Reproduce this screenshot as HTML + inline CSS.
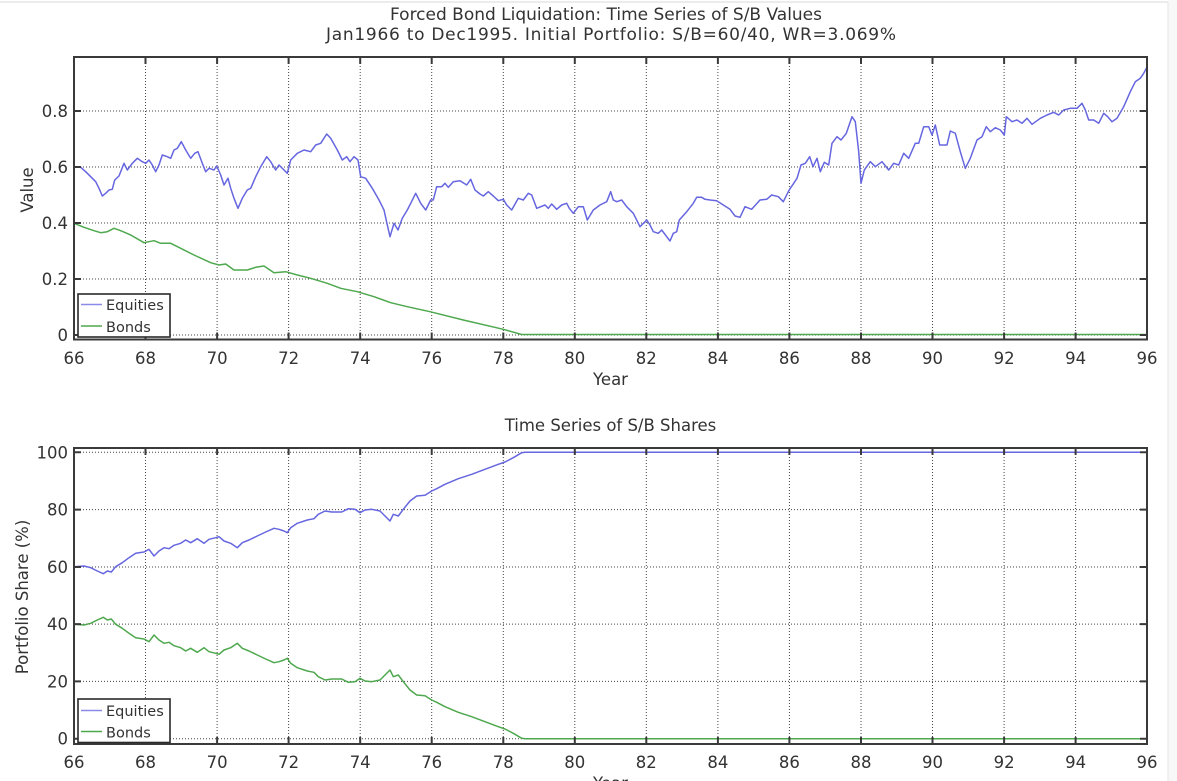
<!DOCTYPE html>
<html>
<head>
<meta charset="utf-8">
<style>
  html,body{margin:0;padding:0;background:#fff;}
  body{width:1177px;height:781px;overflow:hidden;}
  svg{display:block;}
  text{font-family:"DejaVu Sans","Liberation Sans",sans-serif;fill:#333;}
</style>
</head>
<body>
<svg width="1177" height="781" viewBox="0 0 1177 781" xmlns="http://www.w3.org/2000/svg">
  <rect x="0" y="0" width="1177" height="781" fill="#fff"/>
  <rect x="1168" y="0" width="9" height="781" fill="#f8f8f8"/>
  <line x1="0" y1="2" x2="1168" y2="2" stroke="#d8d8d8" stroke-width="1"/>
  <line x1="1168" y1="2" x2="1168" y2="781" stroke="#e6e6e6" stroke-width="1"/>

  <!-- ============ TOP AXES ============ -->
  <g stroke="#444" stroke-width="1" stroke-dasharray="1 2" fill="none">
    <line x1="145.5" y1="57" x2="145.5" y2="339"/>
    <line x1="217.1" y1="57" x2="217.1" y2="339"/>
    <line x1="288.6" y1="57" x2="288.6" y2="339"/>
    <line x1="360.2" y1="57" x2="360.2" y2="339"/>
    <line x1="431.7" y1="57" x2="431.7" y2="339"/>
    <line x1="503.3" y1="57" x2="503.3" y2="339"/>
    <line x1="574.8" y1="57" x2="574.8" y2="339"/>
    <line x1="646.3" y1="57" x2="646.3" y2="339"/>
    <line x1="717.9" y1="57" x2="717.9" y2="339"/>
    <line x1="789.4" y1="57" x2="789.4" y2="339"/>
    <line x1="861" y1="57" x2="861" y2="339"/>
    <line x1="932.5" y1="57" x2="932.5" y2="339"/>
    <line x1="1004.1" y1="57" x2="1004.1" y2="339"/>
    <line x1="1075.6" y1="57" x2="1075.6" y2="339"/>
    <line x1="74" y1="111" x2="1147" y2="111"/>
    <line x1="74" y1="167" x2="1147" y2="167"/>
    <line x1="74" y1="223" x2="1147" y2="223"/>
    <line x1="74" y1="279" x2="1147" y2="279"/>
    <line x1="74" y1="335" x2="1147" y2="335"/>
  </g>

  <polyline fill="none" stroke="#4ea84e" stroke-width="1.5" stroke-linejoin="round" points="
74,223.3 84,227.3 94,230.7 100.7,232.7 107.3,231.7 114,228.3 120.7,230.7 130.7,235 144,242.7 154,240.7 160.7,243.3 170.7,243.3 180.7,248.3 194,255 210.7,262.7 219,265 225.7,264 234,270 247.3,270 255.7,267.3 264,266 274,272.7 285.7,271.7 297.3,275 310.7,278.3 327.3,283.3 340.7,288.3 357.3,291.7 374,296.7 390.7,302.7 407.3,306.7 430,311.7 463.3,320 503.3,329.3 521.7,334.5 1147,334.5"/>

  <polyline fill="none" stroke="#6666e0" stroke-width="1.5" stroke-linejoin="round" points="
74,166.7 80.7,167.3 85.7,171.7 90.7,176.7 95.7,181.7 99,188.3 102.3,196 105.7,193.3 109,190 112.3,189.3 114.7,180 119,176 124,163.3 127.3,170 132.3,163.3 137.3,158.3 142.3,161.7 145.7,163.3 149,160 152.3,165 155.7,171.7 159,165 162.3,155 167.3,156.7 170.7,158.3 174,150 177.3,148.3 181.3,141.7 185.7,150 190.7,158.3 194.7,153.3 198,151.7 202.3,163.3 205.7,171.7 209,168.3 214,170 216.7,166 220.7,175 224,185 228,178.3 230.7,188.3 234,198.3 238,208.3 242.3,198.3 247.3,190 250.7,188.3 255.7,176.7 260.7,166.7 266.7,156.7 270.7,161.7 275.7,170 279,165 284,170 287.3,173.3 290.7,160 297.3,153.3 304,150 310.7,151.7 315.7,145 320.7,143.3 326.7,134 330.7,138.3 337.3,150 342.3,160 346.7,156.7 350,161.7 354,156.7 358,160 360.7,176.7 365.7,178.3 372.3,188.3 379,200 384,210 387.3,225 390,236.7 394,223.3 398,230 402.3,218.3 407.3,210 410.7,203.3 415.7,193.3 420.7,203.3 425.7,210 430.7,200 433.3,200 436.7,186.7 441.7,186.7 445,183.3 448.3,187.3 453.3,181.7 460,180.7 466.7,185 470.7,179.3 475,190 480,194 483.3,196 488.3,191.7 493.3,196 498.3,200.7 503.3,199.3 506.7,205 511.7,210 518.3,198.3 523.3,200 528.3,193.3 531.7,195 536.7,208.3 545,205 548.3,208.3 551.7,204 556.7,209.3 561.7,205 566.7,203.3 569.3,208.3 573.3,213.3 578.3,206.7 583.3,206.7 587.3,220 593.3,210 600,205 606.7,201.7 610.7,191.7 613.3,200 616.7,201.7 621.7,200 626.7,206.7 633.3,213.3 640,226.7 646.7,220 650,225 653.3,231.7 658.3,233.3 661.7,230 666.7,236.7 670,241 673.3,233.3 676.7,231.7 679.3,220 686.7,211.7 693.3,203.3 696.7,197.3 701.7,197.3 705,199.3 710,200 716.7,200.7 723.3,205 730,209.3 735,216 740,217.3 745,206.7 751.7,209.3 760,200 766.7,199.3 771.7,195 778.3,196.7 783.3,201.7 788.3,191.7 790.3,188.3 793.7,183.3 797,178.3 801,165 805.3,163.3 809.7,156.7 813,166.7 817,158.3 820.3,171.7 824.3,162.3 828.7,165 832,143.3 837,136.7 841,140 846.3,133.3 852,116.7 855.3,121.7 858.7,151.7 861,183.3 864.3,170 870.3,161.7 875.3,166.7 882,161.7 888.7,170 893.7,163.3 898.7,165 903.7,153.3 908.7,158.3 915.3,143.3 918.7,143.3 923.7,126.7 928.7,126.7 932,135 935.3,125 939.7,145 947,145 950.3,131 955.3,133.3 960.3,151.7 965.3,168.3 970.3,158.3 977,140 982,136.7 986.3,126.7 990.3,131.7 995.3,127.7 1000.3,130 1004.3,135 1006.3,116.7 1012,121.7 1017,120 1022,123.3 1027,118.3 1032,124.3 1040.3,118.3 1047,115 1053.7,112.3 1058.7,115 1063.7,110 1070.3,108.3 1077,108.3 1082,103.3 1085.3,110 1088.7,120 1093.7,120 1098.7,123.3 1103.7,113.3 1107.7,116.7 1112,121.7 1117,118.3 1123.7,106.7 1130.3,91.7 1135.3,81.7 1140.3,78.3 1143.7,73.3 1146.3,68.3 1147,66.7"/>

  <rect x="74" y="57" width="1073" height="282.5" fill="none" stroke="#3a3a3a" stroke-width="2"/>
  <g stroke="#3a3a3a" stroke-width="2">
    <path d="M145.5 339.5v-7M217.1 339.5v-7M288.6 339.5v-7M360.2 339.5v-7M431.7 339.5v-7M503.3 339.5v-7M574.8 339.5v-7M646.3 339.5v-7M717.9 339.5v-7M789.4 339.5v-7M861 339.5v-7M932.5 339.5v-7M1004.1 339.5v-7M1075.6 339.5v-7"/>
    <path d="M145.5 57v7M217.1 57v7M288.6 57v7M360.2 57v7M431.7 57v7M503.3 57v7M574.8 57v7M646.3 57v7M717.9 57v7M789.4 57v7M861 57v7M932.5 57v7M1004.1 57v7M1075.6 57v7"/>
    <path d="M74 111h7M74 167h7M74 223h7M74 279h7M74 335h7"/>
    <path d="M1147 111h-7M1147 167h-7M1147 223h-7M1147 279h-7M1147 335h-7"/>
  </g>

  <rect x="78" y="294" width="92" height="43" fill="#fff" stroke="#2a2a2a" stroke-width="1.6"/>
  <line x1="81" y1="304.5" x2="102" y2="304.5" stroke="#8a8ae8" stroke-width="1.4"/>
  <line x1="81" y1="326" x2="102" y2="326" stroke="#4ea84e" stroke-width="1.4"/>
  <text x="106" y="310" font-size="14.5" fill="#333">Equities</text>
  <text x="106" y="332" font-size="14.5" fill="#333">Bonds</text>

  <g font-size="16.5" text-anchor="end">
    <text x="68" y="341">0</text>
    <text x="68" y="285">0.2</text>
    <text x="68" y="229">0.4</text>
    <text x="68" y="173">0.6</text>
    <text x="68" y="117">0.8</text>
  </g>
  <g font-size="16.5" text-anchor="middle">
    <text x="74" y="364">66</text>
    <text x="145.5" y="364">68</text>
    <text x="217.1" y="364">70</text>
    <text x="288.6" y="364">72</text>
    <text x="360.2" y="364">74</text>
    <text x="431.7" y="364">76</text>
    <text x="503.3" y="364">78</text>
    <text x="574.8" y="364">80</text>
    <text x="646.3" y="364">82</text>
    <text x="717.9" y="364">84</text>
    <text x="789.4" y="364">86</text>
    <text x="861" y="364">88</text>
    <text x="932.5" y="364">90</text>
    <text x="1004.1" y="364">92</text>
    <text x="1075.6" y="364">94</text>
    <text x="1147" y="364">96</text>
    <text x="610.5" y="385">Year</text>
  </g>
  <text x="0" y="0" font-size="16.5" text-anchor="middle" transform="translate(33,190) rotate(-90)">Value</text>

  <text x="606" y="20" font-size="17" text-anchor="middle" fill="#222" textLength="432" lengthAdjust="spacing">Forced Bond Liquidation: Time Series of S/B Values</text>
  <text x="611" y="40" font-size="17" text-anchor="middle" fill="#222" textLength="570" lengthAdjust="spacing">Jan1966 to Dec1995. Initial Portfolio: S/B=60/40, WR=3.069%</text>
  <text x="610.5" y="431" font-size="16.5" text-anchor="middle" fill="#222">Time Series of S/B Shares</text>

  <!-- ============ BOTTOM AXES ============ -->
  <g stroke="#444" stroke-width="1" stroke-dasharray="1 2" fill="none">
    <line x1="145.5" y1="448" x2="145.5" y2="744"/>
    <line x1="217.1" y1="448" x2="217.1" y2="744"/>
    <line x1="288.6" y1="448" x2="288.6" y2="744"/>
    <line x1="360.2" y1="448" x2="360.2" y2="744"/>
    <line x1="431.7" y1="448" x2="431.7" y2="744"/>
    <line x1="503.3" y1="448" x2="503.3" y2="744"/>
    <line x1="574.8" y1="448" x2="574.8" y2="744"/>
    <line x1="646.3" y1="448" x2="646.3" y2="744"/>
    <line x1="717.9" y1="448" x2="717.9" y2="744"/>
    <line x1="789.4" y1="448" x2="789.4" y2="744"/>
    <line x1="861" y1="448" x2="861" y2="744"/>
    <line x1="932.5" y1="448" x2="932.5" y2="744"/>
    <line x1="1004.1" y1="448" x2="1004.1" y2="744"/>
    <line x1="1075.6" y1="448" x2="1075.6" y2="744"/>
    <line x1="74" y1="452.3" x2="1147" y2="452.3"/>
    <line x1="74" y1="509.6" x2="1147" y2="509.6"/>
    <line x1="74" y1="567" x2="1147" y2="567"/>
    <line x1="74" y1="624.1" x2="1147" y2="624.1"/>
    <line x1="74" y1="681.4" x2="1147" y2="681.4"/>
    <line x1="74" y1="738.7" x2="1147" y2="738.7"/>
  </g>

  <polyline fill="none" stroke="#4ea84e" stroke-width="1.5" stroke-linejoin="round" points="
74,624.3 84,625 90.7,623.3 97.3,620 103.3,617.3 107.3,620 111.3,619 115.7,624.3 122.3,628.3 129,633.3 135.7,637.7 144,639 149,641.7 154,635 159,640 164,643.3 169,642.3 174,645.7 180.7,647.7 185.7,651 190.7,648.3 197.3,652.3 204,647.7 209,651.7 215.7,653.3 219,654.3 224,650 230.7,647.7 237.3,643.3 242.3,648.3 249,651 257.3,655 265.7,659 274,662.7 279,661.7 284,660 287.3,658.3 290.7,663.3 297.3,667.7 307.3,671 314,672.3 318.3,676.7 325,680 331.7,679 341.7,679 348.3,682.3 355,681.7 360,678.3 365,681 371.7,681.7 380,680 385,675 390,670 393.3,676.7 398.3,675 403.3,681.7 410,690 416.7,695 425,695.7 431.7,700 436.7,702.3 445,706.7 458.3,712.3 471.7,716.7 485,721.7 498.3,726.7 505,729 513.3,733.3 521.7,738.3 525,738.7 1147,738.7"/>

  <polyline fill="none" stroke="#6666e0" stroke-width="1.5" stroke-linejoin="round" points="
74,566.7 84,566 90.7,567.7 97.3,571 103.3,573.7 107.3,571 111.3,572 115.7,566.7 122.3,562.7 129,557.7 135.7,553.3 144,552 149,549.3 154,556 159,551 164,547.7 169,548.7 174,545.3 180.7,543.3 185.7,540 190.7,542.7 197.3,538.7 204,543.3 209,539.3 215.7,537.7 219,536.7 224,541 230.7,543.3 237.3,547.7 242.3,542.7 249,540 257.3,536 265.7,532 274,528.3 279,529.3 284,531 287.3,532.7 290.7,527.7 297.3,523.3 307.3,520 314,518.7 318.3,514.3 325,511 331.7,512 341.7,512 348.3,508.7 355,509.3 360,512.7 365,510 371.7,509.3 380,511 385,516 390,521 393.3,514.3 398.3,516 403.3,509.3 410,501 416.7,496 425,495.3 431.7,491 436.7,488.7 445,484.3 458.3,478.7 471.7,474.3 485,469.3 498.3,464.3 505,462 513.3,457.7 521.7,452.7 525,452.3 1147,452.3"/>

  <rect x="74" y="448" width="1073" height="296" fill="none" stroke="#3a3a3a" stroke-width="2"/>
  <g stroke="#3a3a3a" stroke-width="2">
    <path d="M145.5 744v-7M217.1 744v-7M288.6 744v-7M360.2 744v-7M431.7 744v-7M503.3 744v-7M574.8 744v-7M646.3 744v-7M717.9 744v-7M789.4 744v-7M861 744v-7M932.5 744v-7M1004.1 744v-7M1075.6 744v-7"/>
    <path d="M145.5 448v7M217.1 448v7M288.6 448v7M360.2 448v7M431.7 448v7M503.3 448v7M574.8 448v7M646.3 448v7M717.9 448v7M789.4 448v7M861 448v7M932.5 448v7M1004.1 448v7M1075.6 448v7"/>
    <path d="M74 452.3h7M74 509.6h7M74 567h7M74 624.1h7M74 681.4h7M74 738.7h7"/>
    <path d="M1147 452.3h-7M1147 509.6h-7M1147 567h-7M1147 624.1h-7M1147 681.4h-7M1147 738.7h-7"/>
  </g>

  <rect x="78" y="699" width="92" height="43.5" fill="#fff" stroke="#2a2a2a" stroke-width="1.6"/>
  <line x1="81" y1="710.5" x2="102" y2="710.5" stroke="#8a8ae8" stroke-width="1.4"/>
  <line x1="81" y1="731.5" x2="102" y2="731.5" stroke="#4ea84e" stroke-width="1.4"/>
  <text x="106" y="716" font-size="14.5" fill="#333">Equities</text>
  <text x="106" y="737.5" font-size="14.5" fill="#333">Bonds</text>

  <g font-size="16.5" text-anchor="end">
    <text x="68" y="744.7">0</text>
    <text x="68" y="687.4">20</text>
    <text x="68" y="630.1">40</text>
    <text x="68" y="573">60</text>
    <text x="68" y="515.6">80</text>
    <text x="68" y="458.3">100</text>
  </g>
  <g font-size="16.5" text-anchor="middle">
    <text x="74" y="768">66</text>
    <text x="145.5" y="768">68</text>
    <text x="217.1" y="768">70</text>
    <text x="288.6" y="768">72</text>
    <text x="360.2" y="768">74</text>
    <text x="431.7" y="768">76</text>
    <text x="503.3" y="768">78</text>
    <text x="574.8" y="768">80</text>
    <text x="646.3" y="768">82</text>
    <text x="717.9" y="768">84</text>
    <text x="789.4" y="768">86</text>
    <text x="861" y="768">88</text>
    <text x="932.5" y="768">90</text>
    <text x="1004.1" y="768">92</text>
    <text x="1075.6" y="768">94</text>
    <text x="1147" y="768">96</text>
    <text x="610.5" y="789">Year</text>
  </g>
  <text x="0" y="0" font-size="16.5" text-anchor="middle" transform="translate(28,597) rotate(-90)">Portfolio Share (%)</text>
</svg>
</body>
</html>
